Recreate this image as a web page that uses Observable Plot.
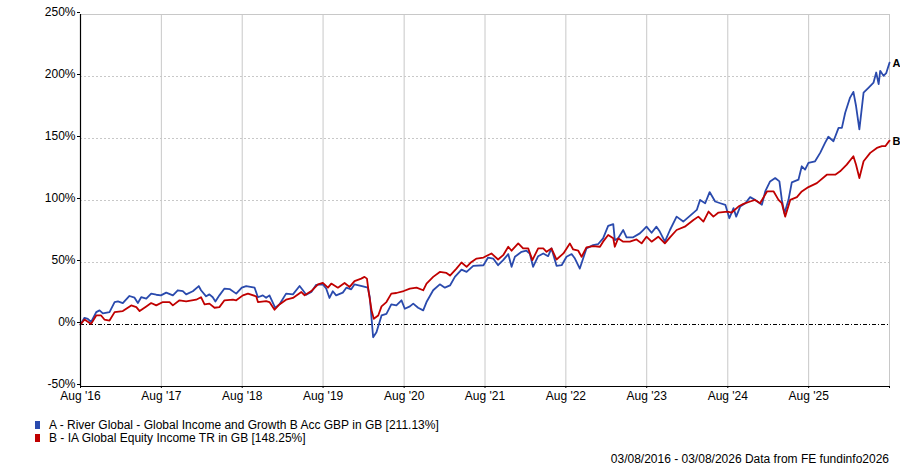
<!DOCTYPE html>
<html>
<head>
<meta charset="utf-8">
<script src="https://cdn.jsdelivr.net/npm/d3@7"></script>
<script src="https://cdn.jsdelivr.net/npm/@observablehq/plot@0.6"></script>
<style>
  html, body { margin: 0; padding: 0; background: #fff; }
  #wrap { position: relative; width: 900px; height: 467px; font-family: "Liberation Sans", Arial, sans-serif; }
  #chart svg { display: block; }
  .leg { position: absolute; left: 35px; font-size: 12px; color: #000; display: flex; align-items: center; height: 13px; }
  .sw { width: 5px; height: 8px; margin-right: 9px; }
  #foot { position: absolute; right: 11px; top: 452px; font-size: 12px; color: #000; }
</style>
</head>
<body>
<div id="wrap">
  <div id="chart"></div>
  <div class="leg" id="legA" style="top:418px"><span class="sw" style="background:#2a4aad"></span><span id="legAText"></span></div>
  <div class="leg" id="legB" style="top:431px"><span class="sw" style="background:#c00000"></span><span id="legBText"></span></div>
  <div id="foot"></div>
</div>
<script>
const seriesNames = ["A - River Global - Global Income and Growth B Acc GBP in GB [211.13%]", "B - IA Global Equity Income TR in GB [148.25%]"];
const seriesKeys = ["A", "B"];
const seriesColors = ["#2a4aad", "#c00000"];
const footerText = "03/08/2016 - 03/08/2026 Data from FE fundinfo2026";

const xTickDates = ["2016-08-03","2017-08-03","2018-08-03","2019-08-03","2020-08-03","2021-08-03","2022-08-03","2023-08-03","2024-08-03","2025-08-03"];
const xTickLabels = ["Aug '16","Aug '17","Aug '18","Aug '19","Aug '20","Aug '21","Aug '22","Aug '23","Aug '24","Aug '25"];
const xDomain = ["2016-08-03","2026-08-03"];
const yTicks = [-50, 0, 50, 100, 150, 200, 250];
const yGridDotted = [50, 100, 150, 200];

const aDates = ["2016-08-03","2016-08-21","2016-09-05","2016-09-20","2016-10-13","2016-10-28","2016-11-12","2016-12-12","2017-01-04","2017-01-19","2017-02-10","2017-03-12","2017-04-04","2017-04-19","2017-05-04","2017-05-27","2017-06-18","2017-07-11","2017-08-01","2017-08-25","2017-09-24","2017-10-16","2017-11-08","2017-11-23","2017-12-23","2018-01-19","2018-01-29","2018-02-21","2018-03-08","2018-03-23","2018-04-04","2018-04-22","2018-05-15","2018-06-07","2018-07-07","2018-08-01","2018-08-21","2018-09-28","2018-10-13","2018-11-04","2018-11-19","2018-12-04","2018-12-30","2019-01-18","2019-02-17","2019-03-20","2019-04-19","2019-05-04","2019-05-19","2019-06-11","2019-07-03","2019-08-02","2019-08-17","2019-09-01","2019-09-16","2019-10-01","2019-10-31","2019-11-16","2019-12-08","2019-12-23","2020-01-30","2020-02-21","2020-03-01","2020-03-09","2020-03-16","2020-03-31","2020-04-23","2020-05-15","2020-06-06","2020-06-29","2020-07-22","2020-08-06","2020-08-29","2020-09-13","2020-10-05","2020-10-28","2020-11-12","2020-12-12","2021-01-11","2021-02-03","2021-02-26","2021-03-20","2021-04-19","2021-05-12","2021-06-11","2021-07-27","2021-08-17","2021-09-09","2021-10-01","2021-10-24","2021-11-16","2021-12-01","2021-12-16","2022-01-15","2022-02-06","2022-02-21","2022-03-08","2022-03-31","2022-04-23","2022-05-15","2022-05-30","2022-06-22","2022-07-15","2022-08-06","2022-08-29","2022-09-13","2022-10-05","2022-11-04","2022-12-04","2022-12-27","2023-01-18","2023-02-10","2023-03-05","2023-03-12","2023-03-27","2023-04-19","2023-05-04","2023-06-03","2023-07-03","2023-07-18","2023-08-02","2023-08-25","2023-09-16","2023-10-01","2023-10-24","2023-11-16","2023-12-16","2024-01-15","2024-02-14","2024-03-16","2024-03-31","2024-04-23","2024-05-13","2024-06-07","2024-06-30","2024-07-23","2024-08-10","2024-08-29","2024-09-10","2024-09-28","2024-10-21","2024-11-12","2024-12-04","2025-01-04","2025-01-19","2025-02-10","2025-03-05","2025-03-24","2025-04-04","2025-04-16","2025-05-04","2025-05-19","2025-06-18","2025-07-03","2025-07-18","2025-08-02","2025-09-01","2025-09-24","2025-10-16","2025-10-31","2025-11-23","2025-12-16","2025-12-31","2026-01-15","2026-02-06","2026-02-21","2026-03-05","2026-03-20","2026-04-08","2026-05-01","2026-05-23","2026-06-04","2026-06-15","2026-06-22","2026-07-07","2026-07-19","2026-08-03"];
const aValues = [0,5.4,4.6,2,10,11.4,9,10,18,18.6,17.3,23,21.6,17.3,22,20.8,24.9,24,23.5,25.7,23.5,27.6,27,24.3,26.8,31,27.6,22.7,24.3,22,18.6,23.5,29,28.6,24.9,29.7,31,29.7,22,23.5,21.6,23.5,13.5,16.2,24.9,24.3,31,27.6,24,26.2,32,32.4,29,21.4,26.8,23.5,25.7,29.7,28.4,32.4,30.8,29.7,22,4.6,-10.3,-6.2,7.3,8.6,16.2,15.4,19.5,12.7,14.6,16.8,13.5,11.4,18.1,27.6,32.4,29.7,31.5,38.4,44.3,42.4,47.3,47.8,54,53.2,47.8,51.9,56.8,46.5,54.6,58.6,59.5,57.3,46.5,55.1,57.3,55.1,61.4,47.3,47.8,54.6,56.8,53.2,45.1,61.4,64,64.9,69.5,79.5,81,68,69.5,76.2,70.3,70.3,73.5,76.2,78.9,74,78.9,74.9,66.8,76.2,87,83,87.6,92.4,100.5,97.8,106.8,99.2,97.8,96.5,85.7,93.8,87,95.1,97.8,102.7,100.5,96.5,107.3,115.4,118.1,115.4,100.5,89.7,100.5,114.6,116.8,127.6,124.9,130.3,131.6,138.4,146.5,151.4,147.8,158.6,158.6,170.8,183,187.6,176.2,157.3,187,191.1,195.1,203.2,193.8,204.6,200.5,202.7,211.13];

const bDates = ["2016-08-03","2016-08-21","2016-09-20","2016-10-13","2016-11-04","2016-11-19","2016-12-12","2017-01-04","2017-02-10","2017-03-20","2017-04-12","2017-04-27","2017-05-27","2017-06-18","2017-07-11","2017-08-10","2017-09-09","2017-09-24","2017-10-24","2017-11-23","2018-01-07","2018-01-29","2018-02-14","2018-03-08","2018-03-31","2018-04-22","2018-05-15","2018-06-22","2018-07-07","2018-08-06","2018-08-29","2018-10-05","2018-10-13","2018-11-19","2018-12-04","2018-12-27","2019-01-18","2019-02-17","2019-03-20","2019-04-27","2019-05-12","2019-06-11","2019-07-11","2019-08-02","2019-08-25","2019-09-09","2019-10-09","2019-11-08","2019-12-01","2019-12-23","2020-01-22","2020-02-06","2020-02-17","2020-02-26","2020-03-09","2020-03-19","2020-04-08","2020-04-23","2020-05-15","2020-06-06","2020-06-29","2020-08-01","2020-08-29","2020-09-28","2020-10-28","2020-11-12","2020-12-12","2021-01-11","2021-02-10","2021-02-26","2021-03-27","2021-04-19","2021-05-12","2021-06-03","2021-06-26","2021-07-27","2021-09-01","2021-10-01","2021-10-24","2021-11-16","2021-12-01","2021-12-31","2022-01-22","2022-02-14","2022-03-05","2022-03-31","2022-04-23","2022-05-08","2022-05-30","2022-06-22","2022-07-23","2022-08-21","2022-09-05","2022-09-28","2022-10-13","2022-11-04","2022-12-04","2023-01-04","2023-01-18","2023-02-10","2023-03-05","2023-03-12","2023-03-27","2023-04-19","2023-05-19","2023-06-18","2023-07-11","2023-08-02","2023-08-25","2023-09-24","2023-10-24","2023-11-16","2023-12-16","2024-01-22","2024-03-01","2024-03-23","2024-04-15","2024-05-08","2024-05-30","2024-06-22","2024-08-01","2024-08-21","2024-09-20","2024-10-13","2024-11-12","2024-12-04","2024-12-27","2025-01-27","2025-02-26","2025-03-20","2025-04-04","2025-04-19","2025-05-12","2025-06-11","2025-07-03","2025-08-02","2025-09-09","2025-10-24","2025-12-01","2025-12-23","2026-01-22","2026-02-21","2026-03-05","2026-03-20","2026-04-08","2026-05-08","2026-06-07","2026-06-30","2026-07-15","2026-08-03"];
const bValues = [0,4,0.5,7.3,7.3,4,3.2,10,10.8,15.4,14,10.8,14.6,17.3,15.4,18.1,18.1,15.4,19.5,18.6,20,22,16.2,16.8,13.5,14,19.5,20,19.5,23.5,24.9,22.7,18.1,18.9,18.1,11.9,16.2,20,21.4,26.2,23.5,27,32.4,33.5,29.7,33,29.7,33.5,30.3,35,37,38.4,37,24.9,11.4,4.6,7.3,14.6,18.1,24.9,25.4,27,29,29.7,27.6,33,38.4,42.4,41.6,39.5,45.1,50,46.5,50.5,53.2,54,57.3,52.4,55.9,62.7,59.5,65.4,61.4,61.4,51.9,61.4,61.4,58.6,61.4,52.4,57.3,65.4,60.5,59.5,54.6,62.2,63.2,62.7,66.8,72.2,69.5,62.7,69.5,66.8,66.8,68.6,65.4,70.8,66.8,70.8,65.4,70.3,76.2,78.9,84.3,87,83,91.1,87,90.3,91.1,90.3,95.1,97.3,99.2,100.5,97.8,107.3,107.3,100.5,97.8,87,100.5,102.7,107.3,110.8,114,120.8,120.8,123.5,128.9,135.7,128.9,118.1,131.6,138.4,142.4,143.8,143.8,148.25];

const parse = d3.utcParse("%Y-%m-%d");
const rowsA = aDates.map((d, i) => ({date: parse(d), value: aValues[i], key: seriesKeys[0]}));
const rowsB = bDates.map((d, i) => ({date: parse(d), value: bValues[i], key: seriesKeys[1]}));
const lastPts = [rowsA[rowsA.length - 1], rowsB[rowsB.length - 1]];
const tickDates = xTickDates.map(parse);
const labelOf = new Map(tickDates.map((d, i) => [+d, xTickLabels[i]]));
const domain = xDomain.map(parse);

const grey = "#c8c8c8";
const chart = Plot.plot({
  width: 900,
  height: 405,
  marginLeft: 80,
  marginRight: 11,
  marginTop: 14,
  marginBottom: 19,
  style: {fontFamily: "'Liberation Sans', Arial, sans-serif", fontSize: "12px", color: "#000", background: "#fff"},
  x: {type: "utc", domain: domain, label: null},
  y: {domain: [-50, 250], label: null},
  marks: [
    Plot.ruleX(tickDates.slice(1), {stroke: grey, strokeWidth: 1}),
    Plot.ruleX([domain[1]], {stroke: grey, strokeWidth: 1}),
    Plot.ruleY(yGridDotted, {stroke: grey, strokeWidth: 1, strokeDasharray: "2,2"}),
    Plot.ruleY([250], {stroke: grey, strokeWidth: 1}),
    Plot.ruleY([0], {stroke: "#000", strokeWidth: 1, strokeDasharray: "4,2,1,2"}),
    Plot.line(rowsA, {x: "date", y: "value", stroke: seriesColors[0], strokeWidth: 1.8, curve: "linear"}),
    Plot.line(rowsB, {x: "date", y: "value", stroke: seriesColors[1], strokeWidth: 1.8, curve: "linear"}),
    Plot.text(lastPts, {x: "date", y: "value", text: "key", dx: 3, dy: 1, textAnchor: "start", fontWeight: "bold", fontSize: 11, fill: "#000"}),
    Plot.ruleY([-50], {stroke: "#000", strokeWidth: 1.2}),
    Plot.ruleX([domain[0]], {stroke: "#000", strokeWidth: 1.2}),
    Plot.axisX({ticks: tickDates.concat([domain[1]]), tickFormat: d => labelOf.get(+d) || "", tickSize: 2, tickPadding: 3, stroke: "#000", fill: "#000", label: null}),
    Plot.axisY({ticks: yTicks, tickFormat: d => d + "%", tickSize: 3, tickPadding: 2, dy: -2, stroke: "#000", fill: "#000", label: null})
  ]
});
document.getElementById("chart").appendChild(chart);
document.getElementById("legAText").textContent = seriesNames[0];
document.getElementById("legBText").textContent = seriesNames[1];
document.getElementById("foot").textContent = footerText;
</script>
</body>
</html>
